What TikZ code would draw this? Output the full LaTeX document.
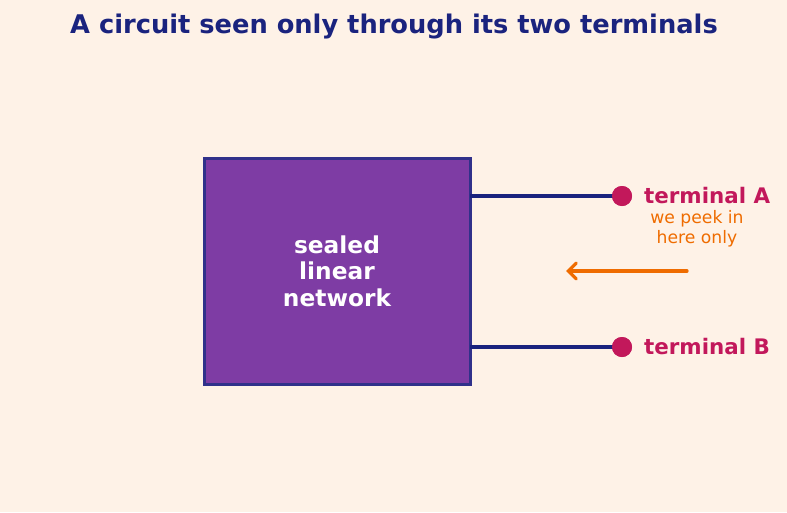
\documentclass[tikz,border=0pt]{standalone}
\usepackage{fontspec}
\setmainfont{DejaVu Sans}
\usetikzlibrary{arrows.meta}
\definecolor{bg}{HTML}{FEF2E7}
\definecolor{navy}{HTML}{1A237E}
\definecolor{boxfill}{HTML}{7E3CA4}
\definecolor{boxedge}{HTML}{30318A}
\definecolor{term}{HTML}{C2185B}
\definecolor{peek}{HTML}{EF6C00}
\tikzset{
  wire/.style={navy, line width=4pt},
  dot/.style={circle, fill=term, inner sep=0pt, minimum size=20pt},
  termlabel/.style={anchor=west, text=term, font=\fontsize{21.4}{25}\selectfont\bfseries, inner sep=0pt},
}
\begin{document}
\begin{tikzpicture}[x=1pt,y=-1pt]
\fill[bg] (0,0) rectangle (787,512);
\useasboundingbox (0,0) rectangle (787,512);
\node[text=navy, font=\fontsize{25.7}{30}\selectfont\bfseries] (title) at (394,27) {A circuit seen only through its two terminals};
\node[draw=boxedge, fill=boxfill, line width=3pt, minimum width=266pt, minimum height=226pt, inner sep=0pt,
      text=white, align=center, font=\fontsize{23.3}{26.5}\selectfont\bfseries] (box) at (337,271) {sealed\\linear\\network};
\coordinate (wa) at (470,196);
\coordinate (wb) at (470,347);
\node[dot] (ta) at (622,196) {};
\node[dot] (tb) at (622,347) {};
\draw[wire] (wa) -- (ta.center);
\draw[wire] (wb) -- (tb.center);
\node[dot] at (622,196) {};
\node[dot] at (622,347) {};
\node[termlabel] (la) at (644,196) {terminal A};
\node[termlabel] (lb) at (644,347) {terminal B};
\node[text=peek, align=center, font=\fontsize{17.2}{20}\selectfont, inner sep=0pt] (peektxt) at (697,228.5) {we peek in\\here only};
\coordinate (as) at (687,271);
\coordinate (ae) at (566,271);
\draw[peek, line width=3.2pt, line cap=round, -{Straight Barb[length=8pt,width=16pt,line cap=round]}] (as) -- (ae);
\end{tikzpicture}
\end{document}
